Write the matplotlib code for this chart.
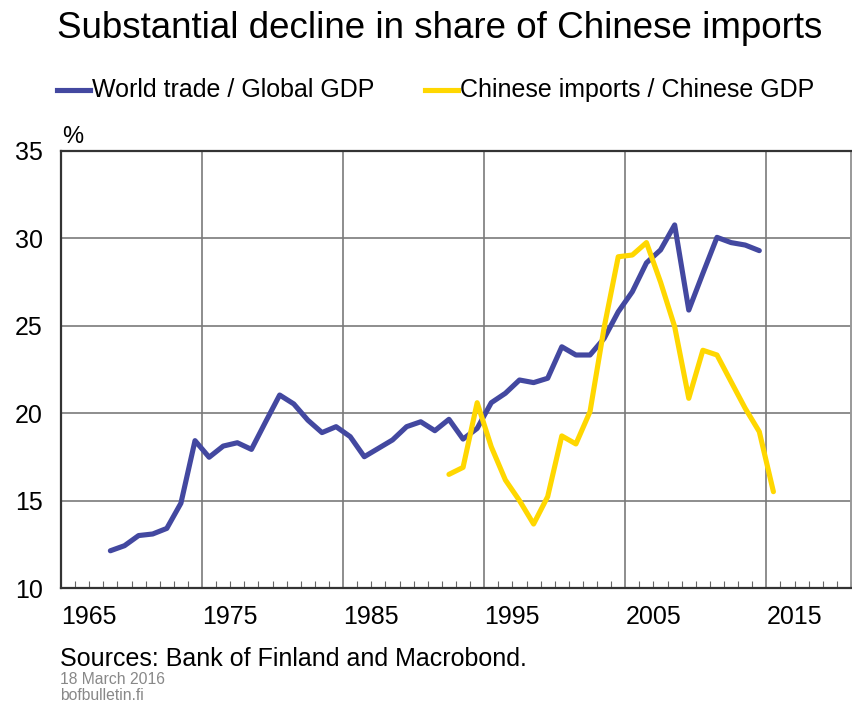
import matplotlib
matplotlib.use("Agg")
import matplotlib.pyplot as plt
from matplotlib.ticker import MultipleLocator, FixedLocator

plt.rcParams['font.family'] = ['Liberation Sans', 'DejaVu Sans']

world_years = list(range(1968, 2015))
world_trade = [12.13, 12.42, 13.0, 13.09, 13.41, 14.85, 18.43, 17.48, 18.12, 18.31,
               17.93, 19.5, 21.04, 20.53, 19.6, 18.89, 19.23, 18.66, 17.51, 17.99,
               18.47, 19.23, 19.51, 19.0, 19.65, 18.52, 19.13, 20.6, 21.14, 21.9,
               21.75, 22.0, 23.8, 23.33, 23.33, 24.28, 25.8, 26.95, 28.6, 29.34,
               30.77, 25.9, 28.0, 30.06, 29.76, 29.62, 29.3]

china_years = list(range(1992, 2016))
china_imports = [16.5, 16.9, 20.6, 18.08, 16.18, 15.0, 13.66, 15.23, 18.7, 18.24,
                 20.09, 24.9, 28.95, 29.05, 29.76, 27.5, 24.95, 20.85, 23.6, 23.33,
                 21.8, 20.28, 18.94, 15.51]

x_ticks = [1965, 1975, 1985, 1995, 2005, 2015]
y_ticks = [10, 15, 20, 25, 30, 35]

title = "Substantial decline in share of Chinese imports"
label_world = "World trade / Global GDP"
label_china = "Chinese imports / Chinese GDP"

BLUE = "#4348a0"
YELLOW = "#ffd700"

fig = plt.figure(figsize=(8.52, 7.04), dpi=100)
ax = fig.add_axes([61/852, 1-588/704, (851-61)/852, (588-151)/704])

# annual data plotted at mid-year
ax.plot([y + 0.5 for y in world_years], world_trade, color=BLUE, lw=3.7,
        solid_joinstyle='round', solid_capstyle='round', zorder=3)
ax.plot([y + 0.5 for y in china_years], china_imports, color=YELLOW, lw=3.7,
        solid_joinstyle='round', solid_capstyle='round', zorder=3)

ax.set_xlim(1965, 2021)
ax.set_ylim(10, 35)

ax.xaxis.set_major_locator(FixedLocator(x_ticks))
ax.xaxis.set_minor_locator(MultipleLocator(1))
ax.yaxis.set_major_locator(FixedLocator(y_ticks))

ax.set_xticklabels([str(t) for t in x_ticks], fontsize=18, ha='left')
ax.set_yticklabels([str(t) for t in y_ticks], fontsize=18)

ax.tick_params(axis='x', which='major', length=0, pad=12)
ax.tick_params(axis='x', which='minor', direction='in', length=5, width=0.8,
               color='#666666', top=False)
ax.tick_params(axis='y', which='major', length=0, pad=13)

ax.grid(True, which='major', color='#7a7a7a', lw=1.2)
for s in ['left', 'top', 'bottom']:
    ax.spines[s].set_color('#333333')
    ax.spines[s].set_linewidth(1.6)
ax.spines['right'].set_color('#999999')
ax.spines['right'].set_linewidth(1.4)

fig.text(440/852, 1-28/704, title, ha='center', va='center', fontsize=26.5)

# legend drawn in figure coordinates
ly = 1-90/704
fig.add_artist(plt.Line2D([57/852, 90/852], [ly, ly], color=BLUE, lw=3.7,
                          transform=fig.transFigure))
fig.text(92/852, ly, label_world, ha='left', va='center', fontsize=18)
fig.add_artist(plt.Line2D([425/852, 458/852], [ly, ly], color=YELLOW, lw=3.7,
                          transform=fig.transFigure))
fig.text(460/852, ly, label_china, ha='left', va='center', fontsize=18)

fig.text(62/852, 1-137/704, "%", ha='left', va='center', fontsize=17)

fig.text(60/852, 1-659/704, "Sources: Bank of Finland and Macrobond.",
         ha='left', va='center', fontsize=18)
fig.text(60/852, 1-679/704, "18 March 2016", ha='left', va='center',
         fontsize=11.3, color='#888888')
fig.text(60/852, 1-695/704, "bofbulletin.fi", ha='left', va='center',
         fontsize=11.3, color='#888888')

fig.savefig("out.png", dpi=100)
